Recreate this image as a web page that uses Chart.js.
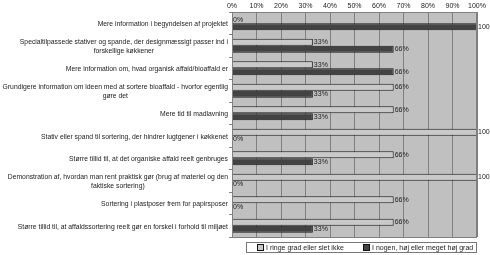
<!DOCTYPE html>
<html>
<head>
<meta charset="utf-8">
<script src="https://cdn.jsdelivr.net/npm/chart.js@4"></script>
<style>
  body { margin: 0; background: #fff; }
  #wrap { position: relative; width: 490px; height: 255px; }
  #legend {
    position: absolute; left: 246px; top: 242px; width: 231px; height: 11px;
    border: 1px solid #777; box-sizing: border-box;
    font: 7px "Liberation Sans", Arial, sans-serif; color: #222;
  }
  #legend span { position: absolute; top: 1px; white-space: nowrap; }
  #legend i {
    display: inline-block; width: 5px; height: 5px; border: 1px solid #111;
    margin-right: 2px; vertical-align: -1px;
  }
</style>
</head>
<body>
<div id="wrap">
  <canvas id="chart" width="490" height="255"></canvas>
  <div id="legend"></div>
</div>
<script>
const categories = [
  ["Mere information i begyndelsen af projektet"],
  ["Specialtilpassede stativer og spande, der designmæssigt passer ind i", "forskellige køkkener"],
  ["Mere information om, hvad organisk affald/bioaffald er"],
  ["Grundigere information om ideen med at sortere bioaffald - hvorfor egentlig", "gøre det"],
  ["Mere tid til madlavning"],
  ["Stativ eller spand til sortering, der hindrer lugtgener i køkkenet"],
  ["Større tillid til, at det organiske affald reelt genbruges"],
  ["Demonstration af, hvordan man rent praktisk gør (brug af materiel og den", "faktiske sortering)"],
  ["Sortering i plastposer frem for papirsposer"],
  ["Større tillid til, at affaldssortering reelt gør en forskel i forhold til miljøet"]
];
const lowValues = [0, 33, 33, 66, 66, 100, 66, 100, 66, 66];
const highValues = [100, 66, 66, 33, 33, 0, 33, 0, 0, 33];
const seriesNames = ["I ringe grad eller slet ikke", "I nogen, høj eller meget høj grad"];
const seriesColors = ["#c9c9c9", "#434343"];

const FONT = '"Liberation Sans", Arial, sans-serif';

const plotBg = {
  id: "plotBg",
  beforeDraw(chart) {
    const a = chart.chartArea, ctx = chart.ctx;
    ctx.save();
    ctx.fillStyle = "#c0c0c0";
    ctx.fillRect(a.left, a.top, a.right - a.left, a.bottom - a.top);
    ctx.restore();
  },
  afterDraw(chart) {
    const a = chart.chartArea, ctx = chart.ctx;
    ctx.save();
    ctx.strokeStyle = "#808080";
    ctx.lineWidth = 1;
    ctx.strokeRect(a.left + 0.5, a.top + 0.5, a.right - a.left - 1, a.bottom - a.top);

    // category labels: block right aligned, lines centered in the block
    const y = chart.scales.y;
    ctx.font = "6.8px " + FONT;
    ctx.fillStyle = "#222";
    ctx.textAlign = "center";
    ctx.textBaseline = "middle";
    categories.forEach((lines, i) => {
      const cy = y.getPixelForValue(i) + 1;
      const w = Math.max(...lines.map(l => ctx.measureText(l).width));
      const cx = a.left - 4 - w / 2;
      const lh = 9;
      lines.forEach((l, k) => {
        ctx.fillText(l, cx, cy + (k - (lines.length - 1) / 2) * lh);
      });
    });

    // value labels
    ctx.font = "7px " + FONT;
    ctx.textAlign = "left";
    chart.data.datasets.forEach((ds, di) => {
      chart.getDatasetMeta(di).data.forEach((bar, i) => {
        ctx.fillText(ds.data[i] + "%", bar.x + 1, bar.y);
      });
    });
    ctx.restore();
  }
};

new Chart(document.getElementById("chart"), {
  type: "bar",
  data: {
    labels: categories.map(c => c.join(" ")),
    datasets: [
      { label: seriesNames[0], data: lowValues, backgroundColor: seriesColors[0], borderColor: "#1a1a1a", borderWidth: 1 },
      { label: seriesNames[1], data: highValues, backgroundColor: seriesColors[1], borderColor: "#1a1a1a", borderWidth: 1 }
    ]
  },
  options: {
    indexAxis: "y",
    responsive: false,
    animation: false,
    devicePixelRatio: 1,
    categoryPercentage: 0.62,
    barPercentage: 1,
    layout: { padding: { left: 0, right: 13, top: 0, bottom: 18 } },
    plugins: { legend: { display: false }, tooltip: { enabled: false } },
    scales: {
      x: {
        position: "top",
        min: 0, max: 100,
        ticks: { stepSize: 10, callback: v => v + "%", font: { family: FONT, size: 7 }, color: "#222", padding: 2, maxRotation: 0 },
        grid: { color: "#808080", tickLength: 0 },
        border: { display: false },
        afterFit(s) { s.height = 12; }
      },
      y: {
        ticks: { callback: () => "", padding: 0 },
        grid: { drawOnChartArea: false, color: "#808080", tickLength: 3, offset: true },
        border: { color: "#808080" },
        afterFit(s) { s.width = 232; }
      }
    }
  },
  plugins: [plotBg]
});

const legend = document.getElementById("legend");
seriesNames.forEach((name, i) => {
  const s = document.createElement("span");
  s.style.left = (i === 0 ? 10 : 116) + "px";
  s.innerHTML = '<i style="background:' + seriesColors[i] + '"></i>' + name;
  legend.appendChild(s);
});
</script>
</body>
</html>
